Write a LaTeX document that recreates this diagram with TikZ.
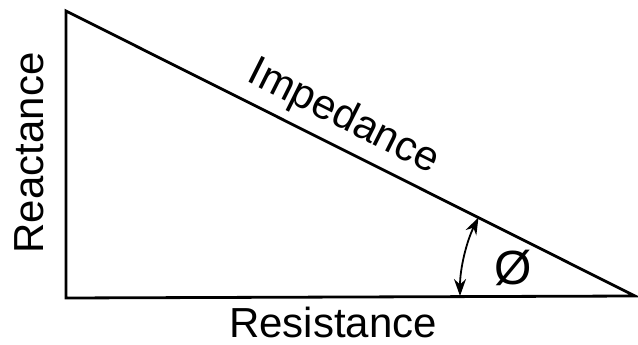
\documentclass[tikz,border=0pt]{standalone}
\usepackage{fontspec}
\setmainfont{Liberation Sans}
\usetikzlibrary{arrows.meta}
\begin{document}
\begin{tikzpicture}[x=1pt,y=-1pt,
  edge/.style={line width=2.8pt,line cap=rect},
  lbl/.style={font=\fontsize{42}{44}\selectfont,inner sep=0pt},
  angarrow/.style={line width=1.8pt,{Stealth[length=17pt,width=12pt]}-{Stealth[length=17pt,width=12pt]}}]
\useasboundingbox (0,0) rectangle (638,345);
\coordinate (A) at (66,11);
\coordinate (B) at (66,298);
\coordinate (C) at (635,296);
\draw[edge,line join=miter] (A) -- (B) -- (C) -- cycle;
\path (A) -- (C) node[lbl,pos=0.465,sloped,above=9pt] (imp) {Impedance};
\node[lbl,rotate=90] (rea) at (29,153) {Reactance};
\node[lbl] (res) at (333,322) {Resistance};
\coordinate (P1) at (460,296);
\draw[angarrow] (P1) arc[start angle=180,end angle=206.5,radius=176];
\node[lbl,font=\fontsize{48}{50}\selectfont] (phi) at (513,268) {Ø};
\end{tikzpicture}
\end{document}
